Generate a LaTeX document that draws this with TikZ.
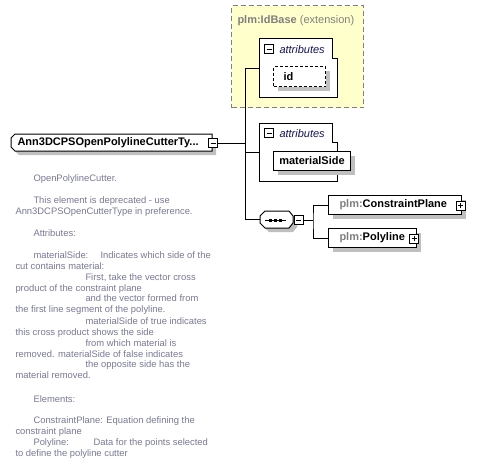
\documentclass[tikz,border=0pt]{standalone}
\usepackage{fontspec}
\setmainfont{Liberation Sans}
\usetikzlibrary{shadows,positioning}

\definecolor{extyellow}{RGB}{255,255,204}
\definecolor{desccol}{RGB}{120,120,150}
\definecolor{attrcol}{RGB}{20,20,90}
\definecolor{nsgray}{RGB}{128,128,128}

\tikzset{
  elem/.style={draw, fill=white, inner sep=0pt, font=\bfseries\fontsize{11}{13}\selectfont,
    drop shadow={shadow xshift=4pt, shadow yshift=-4pt, fill=black!25, opacity=1}},
  lbl/.style={inner sep=0pt, font=\bfseries\fontsize{11}{13}\selectfont},
  grouplbl/.style={anchor=base west, inner sep=0pt, text=attrcol, font=\itshape\fontsize{11}{13}\selectfont},
  minusbox/.style={draw, fill=white, minimum size=9pt, inner sep=0pt,
    path picture={\draw ([xshift=2pt]path picture bounding box.west) -- ([xshift=-2pt]path picture bounding box.east);}},
  plusbox/.style={draw, fill=white, minimum size=9pt, inner sep=0pt,
    path picture={\draw ([xshift=2pt]path picture bounding box.west) -- ([xshift=-2pt]path picture bounding box.east);
      \draw ([yshift=-2pt]path picture bounding box.north) -- ([yshift=2pt]path picture bounding box.south);}},
  desc/.style={anchor=base west, inner sep=0pt, text=desccol, font=\fontsize{9.4}{11}\selectfont}
}

\begin{document}
\begin{tikzpicture}[x=1pt, y=-1pt, line width=1pt]
  \useasboundingbox (0,0) rectangle (489,474);

  % extension base
  \node[draw=nsgray, fill=extyellow, dash pattern=on 5pt off 3pt, minimum width=132pt, minimum height=102pt, anchor=north west] (ext) at (231,5) {};
  \node[anchor=base west, inner sep=0pt, text=nsgray, font=\fontsize{11}{13}\selectfont] (extlbl) at (237,23) {\textbf{plm:IdBase} (extension)};

  % root element
  \fill[black!25] (19,138) -- (216,138) -- (216,155) -- (19,155) -- (15,151) -- (15,142) -- cycle;
  \draw[fill=white] (15,134) -- (212,134) -- (212,151) -- (15,151) -- (11,147) -- (11,138) -- cycle;
  \node[lbl, anchor=west] (root) at (17,142.5) {Ann3DCPSOpenPolylineCutterTy...};
  \node[minusbox] (rootminus) at (213,143) {};

  % attributes of the base
  \draw[fill=white] (259,38) -- (332,38) -- (332,58) -- (337,58) -- (337,97) -- (259,97) -- cycle;
  \node[minusbox] (attrminus1) at (269,49) {};
  \node[grouplbl] (attr1) at (279,53) {attributes};
  \node[elem, dash pattern=on 3pt off 2pt, minimum width=52pt, minimum height=20pt, text width=32pt, inner xsep=10pt, align=left, anchor=north west] (id) at (273,66) {id};

  % own attributes
  \draw[fill=white] (259,123) -- (332,123) -- (332,142) -- (337,142) -- (337,181) -- (259,181) -- cycle;
  \node[minusbox] (attrminus2) at (269,133) {};
  \node[grouplbl] (attr2) at (279,137) {attributes};
  \node[elem, minimum width=77pt, minimum height=19pt, anchor=north west] (matside) at (273,151) {materialSide};

  % sequence
  \fill[black!25] (269,215) -- (293,215) -- (297,220) -- (297,227) -- (293,232) -- (269,232) -- (264,227) -- (264,220) -- cycle;
  \draw[fill=white] (265,211) -- (289,211) -- (293,216) -- (293,223) -- (289,228) -- (265,228) -- (260,223) -- (260,216) -- cycle;
  \node[inner sep=0pt, minimum width=33pt, minimum height=17pt] (seq) at (276.5,219.5) {};
  \draw (265,220) -- (286,220);
  \fill (268.5,218.5) rectangle +(3,3);
  \fill (273.5,218.5) rectangle +(3,3);
  \fill (278.5,218.5) rectangle +(3,3);
  \node[minusbox] (seqminus) at (298.5,220) {};

  % children
  \node[elem, minimum width=133pt, minimum height=19pt, text width=111pt, inner xsep=11pt, align=left, anchor=north west] (cplane) at (328,195) {\textcolor{nsgray}{plm:}ConstraintPlane};
  \node[elem, minimum width=88pt, minimum height=19pt, text width=66pt, inner xsep=11pt, align=left, anchor=north west] (poly) at (328,228) {\textcolor{nsgray}{plm:}Polyline};
  \node[plusbox] (cplus) at (460.5,205.5) {};
  \node[plusbox] (pplus) at (414,238.5) {};

  % connectors
  \coordinate (trunk) at (245,68);
  \coordinate (g1) at (259,68);
  \coordinate (g2) at (259,152);
  \coordinate (fork) at (313,220);
  \draw (rootminus.east) -- (rootminus.east -| trunk);
  \draw (g1) -- (trunk) -- (trunk |- seq.west) -- (seq.west);
  \draw (trunk |- g2) -- (g2);
  \draw (seqminus.east) -- (fork);
  \draw (cplane.west) -| (fork) |- (poly.west);

  % documentation
  \node[desc] (d1) at (33,181) {OpenPolylineCutter.};
  \node[desc] (d2) at (33,203) {This element is deprecated - use};
  \node[desc] (d3) at (15,214) {Ann3DCPSOpenCutterType in preference.};
  \node[desc] (d4) at (33,236) {Attributes:};
  \node[desc] (d5) at (33,258) {materialSide:};
  \node[desc] (d5b) at (100,258) {Indicates which side of the};
  \node[desc] (d6) at (15,269) {cut contains material:};
  \node[desc] (d7) at (85,280) {First, take the vector cross};
  \node[desc] (d8) at (15,291) {product of the constraint plane};
  \node[desc] (d9) at (85,301.5) {and the vector formed from};
  \node[desc] (d10) at (15,312) {the first line segment of the polyline.};
  \node[desc] (d11) at (85,324) {materialSide of true indicates};
  \node[desc] (d12) at (15,335) {this cross product shows the side};
  \node[desc] (d13) at (85,346) {from which material is};
  \node[desc] (d14) at (15,357) {removed. materialSide of false indicates};
  \node[desc] (d15) at (85,367.5) {the opposite side has the};
  \node[desc] (d16) at (15,378.5) {material removed.};
  \node[desc] (d17) at (33,402) {Elements:};
  \node[desc] (d18) at (33,423) {ConstraintPlane: Equation defining the};
  \node[desc] (d19) at (15,434) {constraint plane};
  \node[desc] (d20) at (33,445) {Polyline:};
  \node[desc] (d20b) at (93,445) {Data for the points selected};
  \node[desc] (d21) at (15,456) {to define the polyline cutter};
\end{tikzpicture}
\end{document}
